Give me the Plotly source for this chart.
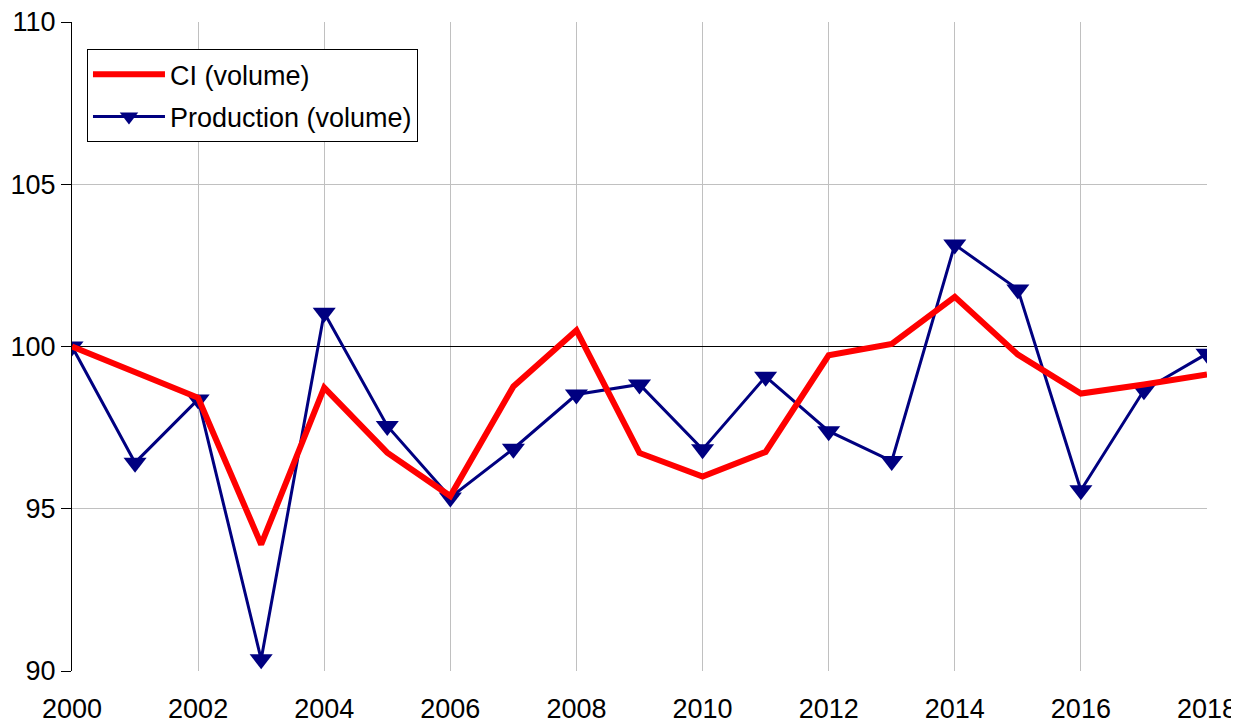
import plotly.graph_objects as go

years = list(range(2000, 2019))
ci_volume = [100.0, 99.2, 98.42, 93.9, 98.73, 96.73, 95.39, 98.77, 100.5, 96.72,
             95.99, 96.75, 99.73, 100.08, 101.53, 99.75, 98.55, 98.83, 99.14]
production_volume = [100.0, 96.42, 98.37, 90.36, 101.04, 97.55, 95.35, 96.85, 98.52, 98.83,
                     96.83, 99.07, 97.39, 96.47, 103.14, 101.76, 95.57, 98.65, 99.78]
base_level = 100
y_ticks = [90, 95, 100, 105, 110]
x_ticks = list(range(2000, 2019, 2))

FONT = "Liberation Sans, Arial, sans-serif"

fig = go.Figure()
# base-100 reference line
fig.add_trace(go.Scatter(
    x=[years[0], years[-1]], y=[base_level, base_level], mode="lines",
    line=dict(color="black", width=1), showlegend=False, hoverinfo="skip",
))
fig.add_trace(go.Scatter(
    x=years, y=production_volume, name="Production (volume)",
    mode="lines+markers",
    line=dict(color="#000080", width=3),
    marker=dict(symbol="triangle-down", size=20, color="#000080"),
    legendrank=2, legendgroup="b",
))
fig.add_trace(go.Scatter(
    x=years, y=ci_volume, name="CI (volume)",
    mode="lines",
    line=dict(color="#ff0000", width=6),
    legendrank=1, legendgroup="a",
))

fig.update_layout(
    width=1231, height=714,
    margin=dict(l=64, r=32, t=13.5, b=50.5, autoexpand=False),
    paper_bgcolor="white", plot_bgcolor="white",
    font=dict(family=FONT, size=27, color="black"),
    showlegend=True,
    legend=dict(
        x=0.0132, y=0.958, xanchor="left", yanchor="top",
        bgcolor="white", bordercolor="black", borderwidth=1,
        font=dict(family=FONT, size=27, color="black"),
        tracegroupgap=4, traceorder="grouped", itemwidth=72,
    ),
    xaxis=dict(
        range=[2000, 2018], tickvals=x_ticks, ticktext=[str(v) for v in x_ticks],
        showgrid=True, gridcolor="#c0c0c0", gridwidth=1,
        showline=False, zeroline=False, automargin=False,
        ticks="outside", ticklen=14, tickcolor="rgba(0,0,0,0)",
        ticklabeloverflow="allow",
    ),
    yaxis=dict(
        range=[90, 110], tickvals=y_ticks, ticktext=[str(v) for v in y_ticks],
        showgrid=True, gridcolor="#c0c0c0", gridwidth=1,
        showline=True, linecolor="black", linewidth=1, zeroline=False, automargin=False,
        ticks="outside", ticklen=10, tickcolor="black", tickwidth=1,
        ticklabeloverflow="allow",
    ),
)

fig.write_html("out.html")
